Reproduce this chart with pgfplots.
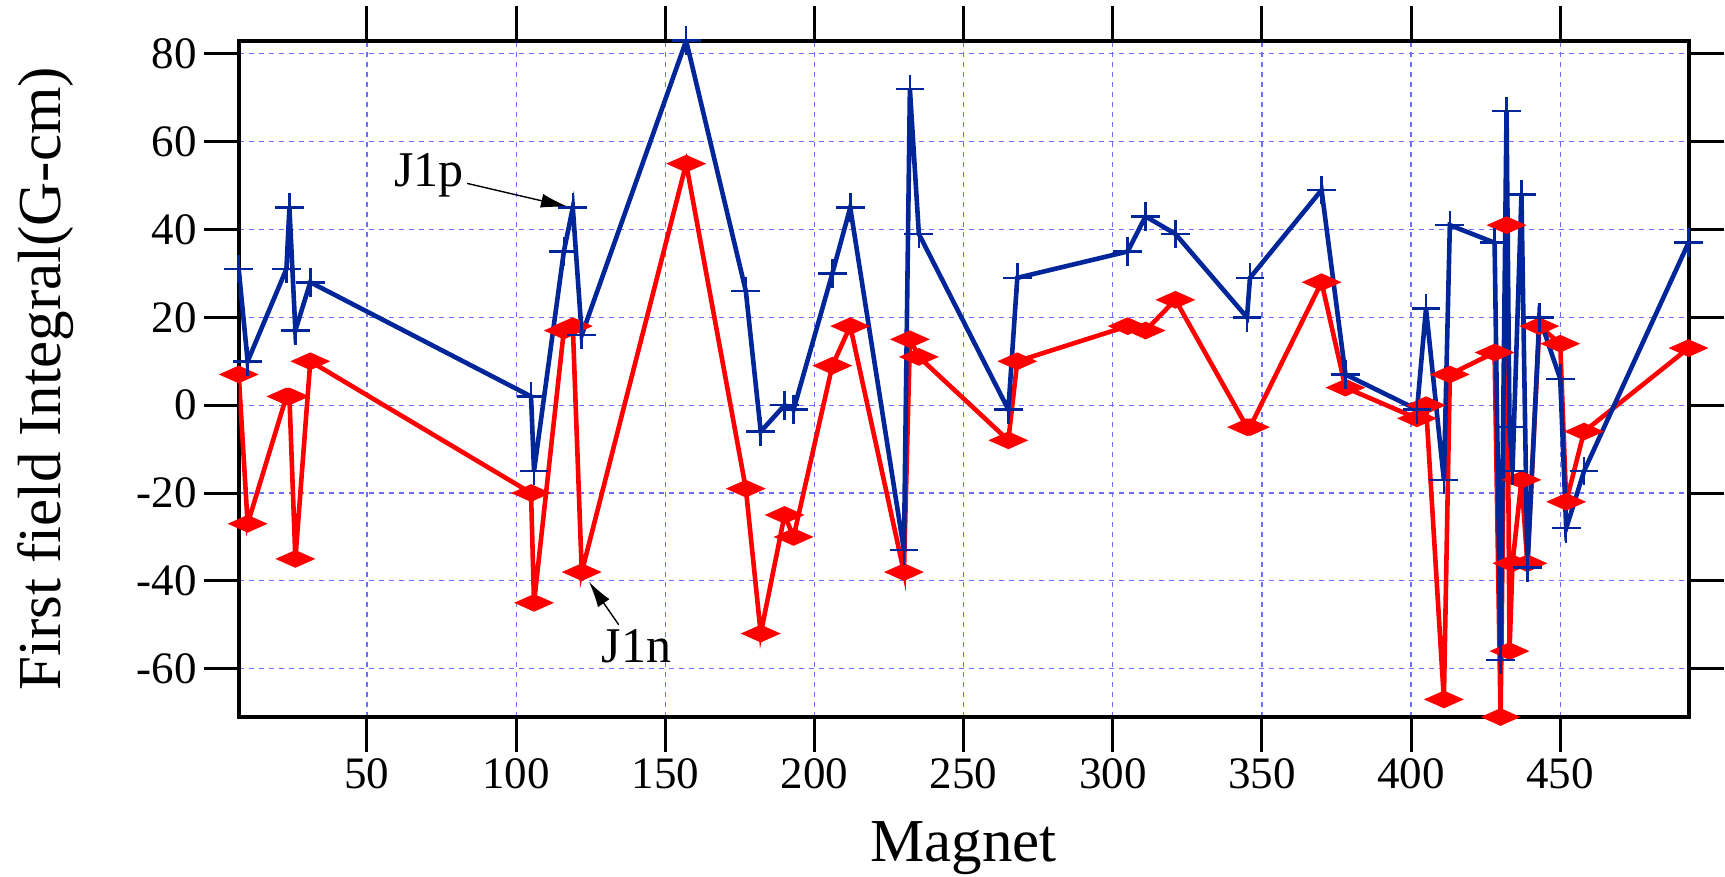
\documentclass[border=0pt]{standalone}
\usepackage{fontspec}
\setmainfont{Liberation Serif}
\usepackage{pgfplots}
\usepackage{pgfplotstable}
\pgfplotsset{compat=1.18}
\usetikzlibrary{arrows.meta}

\definecolor{jpblue}{RGB}{0,38,153}
\definecolor{jnred}{RGB}{255,0,0}
\definecolor{gridblue}{RGB}{110,110,255}

% First field integral per magnet, J1p (positive pole)
\pgfplotstableread{
mag val
7 31
10 10
23 31
24 45
26 17
31 28
105 2
106 -15
116 35
119 45
122 16
157 83
177 26
182 -6
190 0
193 -1
206 30
212 45
230 -33
232 72
235 39
265 -1
268 29
305 35
311 43
321 39
345 20
346 29
370 49
378 7
402 -1
405 22
411 -17
413 41
428 37
430 -58
432 67
433 -5
434 -15
437 48
439 -37
443 20
450 6
452 -28
458 -15
493 37
}\jonep

% First field integral per magnet, J1n (negative pole)
\pgfplotstableread{
mag val
7 7
10 -27
23 2
24 2
26 -35
31 10
105 -20
106 -45
116 17
119 18
122 -38
157 55
177 -19
182 -52
190 -25
193 -30
206 9
212 18
230 -38
232 15
235 11
265 -8
268 10
305 18
311 17
321 24
345 -5
346 -5
370 28
378 4
402 -3
405 0
411 -67
413 7
428 12
430 -71
432 41
433 -56
434 -36
437 -17
439 -36
443 18
450 14
452 -22
458 -6
493 13
}\jonen

\begin{document}
\begin{tikzpicture}
\begin{axis}[
  at={(0,0)}, anchor=south west,
  scale only axis, width=724.9pt, height=338.15pt,
  xmin=7, xmax=493, ymin=-71, ymax=83,
  xtick={50,100,...,450},
  xticklabels={50,100,150,200,250,300,350,400,450},
  ytick={-60,-40,...,80},
  yticklabels={-60,-40,-20,0,20,40,60,80},
  tick pos=both,
  tick align=outside, major tick length=17.5pt,
  every tick/.style={black, line width=1.5pt},
  axis line style={line width=2pt},
  grid=major,
  major grid style={gridblue, line width=0.6pt, dash pattern=on 2.5pt off 2.5pt},
  tick label style={font=\fontsize{22.5}{27}\selectfont},
  label style={font=\fontsize{30.5}{36}\selectfont},
  xlabel={Magnet},
  ylabel={First field Integral(G-cm)},
  xlabel style={at={(axis description cs:0.5,-0.1937)}, anchor=center},
  ylabel style={at={(axis description cs:-0.1330,0.5)}, anchor=center},
]
\addplot[jnred, line width=2.3pt, mark=diamond*, mark size=5.3pt,
  mark options={solid, xscale=1.8, yscale=0.6}] table[x=mag, y=val] {\jonen};
\addplot[jpblue, line width=2.3pt, mark=+, mark size=7.2pt,
  mark options={solid, line width=1.3pt}] table[x=mag, y=val] {\jonep};

% labels for the two curves
\node[anchor=base, inner sep=0pt, font=\fontsize{25}{30}\selectfont]
  at (axis cs:70.8,49.7) {J1p};
\draw[black, line width=0.7pt, -{Latex[length=14pt,width=7pt]}]
  (axis cs:83.6,50.5) -- (axis cs:117.7,45.1);
\node[anchor=base, inner sep=0pt, font=\fontsize{25}{30}\selectfont]
  at (axis cs:140.4,-58.7) {J1n};
\draw[black, line width=0.7pt, -{Latex[length=13pt,width=7pt]}]
  (axis cs:134.4,-50) -- (axis cs:124.4,-40.2);
\end{axis}
\pgfresetboundingbox
\path[use as bounding box] (-119.35pt,-80pt) rectangle (743.15pt,358.5pt);
\end{tikzpicture}
\end{document}
